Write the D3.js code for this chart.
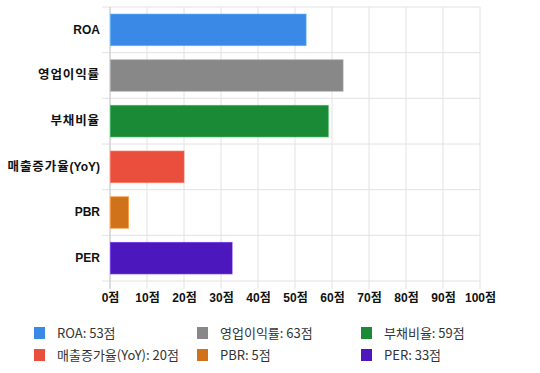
<!DOCTYPE html>
<html>
<head>
<meta charset="utf-8">
<script src="https://cdn.jsdelivr.net/npm/d3@7"></script>
<style>
  body { margin: 0; background: #fff; }
  svg { display: block; }
</style>
</head>
<body>
<div class="canvas"></div>
<script>
const categories = ['ROA', '영업이익률', '부채비율', '매출증가율(YoY)', 'PBR', 'PER']
const scores = [53, 63, 59, 20, 5, 33]
const colors = ['#3a89e6', '#888888', '#1b8a37', '#ea4e3c', '#d07219', '#4c17bc']
const xTicks = [0, 10, 20, 30, 40, 50, 60, 70, 80, 90, 100]

const width = 540
const height = 373
const margin = { top: 7, right: 60, bottom: 92, left: 110 }
const graphWidth = width - margin.left - margin.right
const graphHeight = height - margin.top - margin.bottom

const svg = d3.select('.canvas')
  .append('svg')
  .attr('width', width)
  .attr('height', height)

const graph = svg.append('g')
  .attr('transform', `translate(${margin.left}, ${margin.top})`)

// scales
const x = d3.scaleLinear()
  .domain([0, 100])
  .range([0, graphWidth])

const y = d3.scaleBand()
  .domain(categories)
  .range([0, graphHeight])

const yLines = d3.scalePoint()
  .domain(d3.range(categories.length + 1))
  .range([0, graphHeight])

// grid
graph.append('g')
  .selectAll('line')
  .data(xTicks)
  .join('line')
  .attr('x1', d => x(d)).attr('x2', d => x(d))
  .attr('y1', 0).attr('y2', graphHeight + 8)
  .attr('stroke', '#e2e2e2')
  .attr('stroke-width', 1)

graph.append('g')
  .selectAll('line')
  .data(yLines.domain())
  .join('line')
  .attr('x1', -8).attr('x2', graphWidth)
  .attr('y1', d => yLines(d)).attr('y2', d => yLines(d))
  .attr('stroke', '#e2e2e2')
  .attr('stroke-width', 1)

// axis line
graph.append('line')
  .attr('x1', 0).attr('x2', 0)
  .attr('y1', 0).attr('y2', graphHeight + 8)
  .attr('stroke', '#c8c8c8')

// bars
const barH = y.bandwidth() * 0.69
graph.selectAll('rect.bar')
  .data(scores)
  .join('rect')
  .attr('class', 'bar')
  .attr('x', 0.5)
  .attr('y', (d, i) => y(categories[i]) + (y.bandwidth() - barH) / 2)
  .attr('width', d => x(d) - 0.5)
  .attr('height', barH)
  .attr('fill', (d, i) => colors[i])
  .attr('stroke', (d, i) => d3.color(colors[i]).brighter(0.6))
  .attr('stroke-opacity', 0.6)
  .attr('stroke-width', 1)

// axes
const yAxis = d3.axisLeft(y).tickSize(0).tickPadding(10)
const xAxis = d3.axisBottom(x).tickValues(xTicks).tickSize(0).tickPadding(10)
  .tickFormat(d => `${d}점`)

const yAxisGroup = graph.append('g').call(yAxis)
const xAxisGroup = graph.append('g')
  .attr('transform', `translate(0, ${graphHeight})`)
  .call(xAxis)

;[yAxisGroup, xAxisGroup].forEach(g => {
  g.select('.domain').remove()
  g.selectAll('text')
    .attr('fill', '#111')
    .style('font-family', 'Arial, "Liberation Sans", "Noto Sans CJK KR", sans-serif')
    .style('font-size', '12px')
    .style('font-weight', 'bold')
})
xAxisGroup.selectAll('text').attr('dy', '0.9em')

// hangul runs on the y axis are a bit wider in the original
yAxisGroup.selectAll('text').each(function (d) {
  const t = d3.select(this).text('')
  d.match(/[\uac00-\ud7a3]+|[^\uac00-\ud7a3]+/g).forEach(part => {
    const hangul = /[\uac00-\ud7a3]/.test(part)
    t.append('tspan')
      .style('font-size', hangul ? '12.5px' : '12px')
      .style('letter-spacing', hangul ? '0.9px' : null)
      .text(part)
  })
})

// legend
const legendCols = [34, 197, 361]
const legendRows = [333, 355]
const legend = svg.append('g')
  .selectAll('g')
  .data(categories)
  .join('g')
  .attr('transform', (d, i) => `translate(${legendCols[i % 3]}, ${legendRows[Math.floor(i / 3)]})`)

legend.append('rect')
  .attr('x', 0).attr('y', -6)
  .attr('width', 11).attr('height', 12)
  .attr('fill', (d, i) => colors[i])

legend.append('text')
  .attr('x', 23)
  .attr('dy', '0.35em')
  .attr('fill', '#333')
  .style('font-family', '"Noto Sans CJK KR", "Noto Sans", sans-serif')
  .style('font-size', '13px')
  .text((d, i) => `${d}: ${scores[i]}점`)
</script>
</body>
</html>
